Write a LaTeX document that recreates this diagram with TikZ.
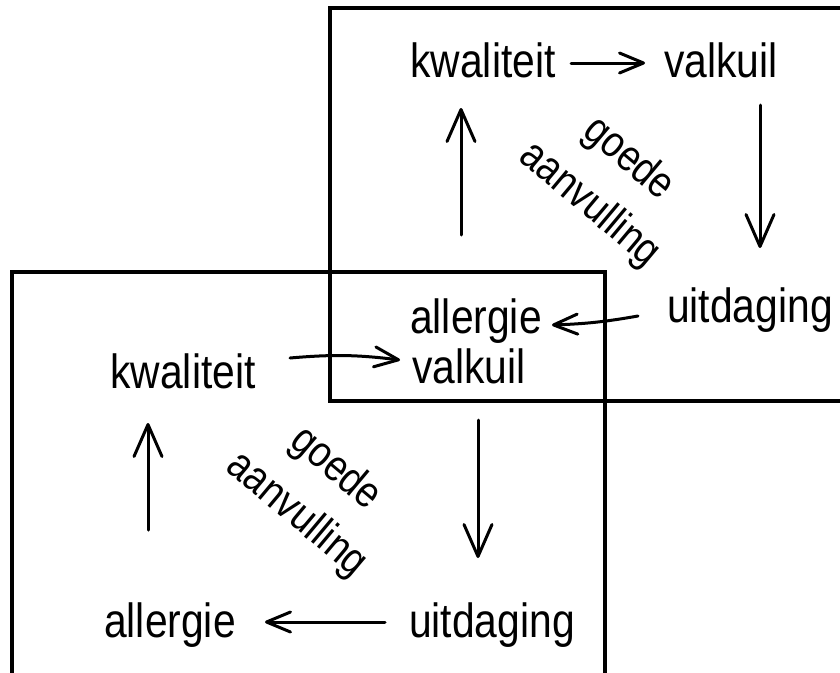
\documentclass[tikz,border=0pt]{standalone}
\usepackage{fontspec}
\setmainfont{Liberation Sans}[FakeStretch=0.85]
\usepackage{tikz}
\usetikzlibrary{arrows.meta}
\tikzstyle{word}=[font=\fontsize{48}{56}\selectfont,inner sep=0mm,anchor=base]
\tikzstyle{note}=[font=\fontsize{44}{60}\selectfont,inner sep=0mm,align=center,rotate=-40]
\tikzstyle{frame}=[draw=black,line width=4pt]
\tikzstyle{arrow}=[-{Straight Barb[length=32pt,width=28pt,round]},line width=3pt,line cap=round]
\tikzstyle{harrow}=[-{Straight Barb[length=24pt,width=20pt,round]},line width=3pt,line cap=round]
\begin{document}
\begin{tikzpicture}[x=1pt,y=-1pt]
      \useasboundingbox (0,0) rectangle (840,672);
      \clip (0,0) rectangle (840,672);
      % the two frames
      \draw[frame] (330,8) rectangle (850,401);
      \draw[frame] (12,272) rectangle (605,690);
      % upper frame
      \node[word] at (483,77) (kw1) {kwaliteit};
      \node[word] at (721,77) (vk1) {valkuil};
      \node[word] at (750,322) (ui1) {uitdaging};
      \node[word,anchor=base west] at (410,333) (al1) {allergie};
      \node[note] at (609,182) (gd1) {goede\\aanvulling};
      % lower frame
      \node[word,anchor=base west] at (412,383) (vk2) {valkuil};
      \node[word] at (183,388) (kw2) {kwaliteit};
      \node[word] at (492,637) (ui2) {uitdaging};
      \node[word] at (170,637) (al2) {allergie};
      \node[note] at (316,492) (gd2) {goede\\aanvulling};
      % cycle, upper frame
      \draw[harrow] ([shift={(88,-14)}]kw1.base) -- ([shift={(-76,-14)}]vk1.base);
      \draw[arrow] ([shift={(39,28)}]vk1.base) -- ([shift={(10,-74)}]ui1.base);
      \draw[harrow] ([shift={(-112,-6)}]ui1.base) to[bend left=4] ([shift={(142,-8)}]al1.base west);
      \draw[arrow] ([shift={(51,-98)}]al1.base west) -- ([shift={(-22,31)}]kw1.base);
      % cycle, lower frame
      \draw[harrow] ([shift={(107,-30)}]kw2.base) to[bend left=6] ([shift={(-12,-23)}]vk2.base west);
      \draw[arrow] ([shift={(66,37)}]vk2.base west) -- ([shift={(-14,-79)}]ui2.base);
      \draw[harrow] ([shift={(-107,-15)}]ui2.base) -- ([shift={(95,-15)}]al2.base);
      \draw[arrow] ([shift={(-22,-107)}]al2.base) -- ([shift={(-35,35)}]kw2.base);
\end{tikzpicture}
\end{document}
